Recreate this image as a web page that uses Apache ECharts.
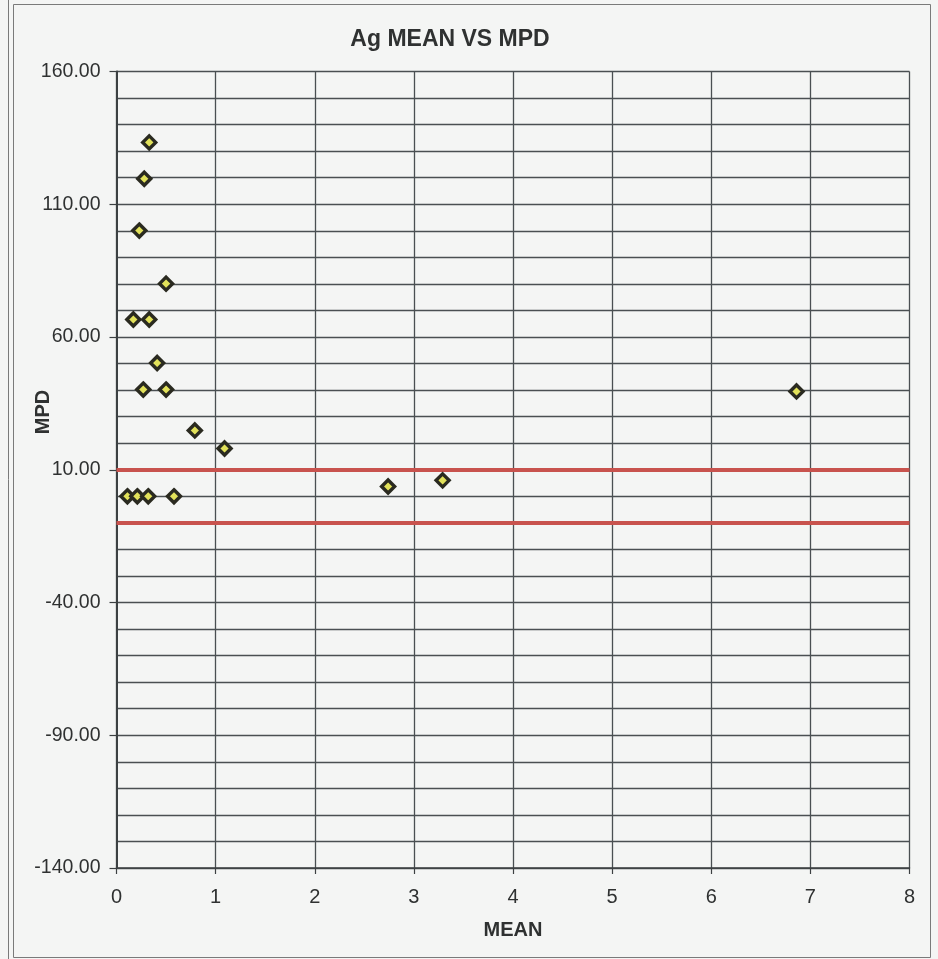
<!DOCTYPE html>
<html>
<head>
<meta charset="utf-8">
<script src="https://cdn.jsdelivr.net/npm/echarts@6/dist/echarts.min.js"></script>
<style>
html,body{margin:0;padding:0;background:#f4f5f4;}
#chart{width:938px;height:959px;}
</style>
</head>
<body>
<div id="chart"></div>
<script>
// Data
const meanValues = [0.33, 0.28, 0.23, 0.50, 0.17, 0.33, 0.41, 0.27, 0.50, 0.79, 1.09, 0.11, 0.21, 0.32, 0.58, 2.74, 3.29, 6.86];
const mpdValues  = [133.3, 119.6, 100.1, 80.1, 66.6, 66.6, 50.2, 40.2, 40.2, 24.8, 18.0, 0.0, 0.0, 0.0, 0.0, 3.7, 6.0, 39.5];
const limitLines = [10, -10];
const xTicks = [0, 1, 2, 3, 4, 5, 6, 7, 8];
const yTicks = [-140, -90, -40, 10, 60, 110, 160];

const chart = echarts.init(document.getElementById('chart'), null, {renderer: 'canvas'});
const font = 'Liberation Sans, Arial, sans-serif';
const gridColor = '#4a4f52';
const textColor = '#2f3131';

const points = meanValues.map((m, i) => [m, mpdValues[i]]);

chart.setOption({
  backgroundColor: '#f4f5f4',
  animation: false,
  title: {
    text: 'Ag MEAN VS MPD',
    left: 445,
    textAlign: 'center',
    top: 23,
    textStyle: {fontFamily: font, fontSize: 23, fontWeight: 'bold', color: textColor}
  },
  graphic: [
    {type: 'rect', shape: {x: 13.5, y: 4.5, width: 917, height: 953}, style: {fill: null, stroke: '#7a7a7a', lineWidth: 1}, silent: true},
    {type: 'line', shape: {x1: 8.5, y1: 0, x2: 8.5, y2: 959}, style: {stroke: '#7a7a7a', lineWidth: 1}, silent: true},
    {type: 'text', x: 43, y: 412, rotation: Math.PI / 2,
      style: {text: 'MPD', fontFamily: font, fontSize: 20, fontWeight: 'bold', fill: textColor, align: 'center', verticalAlign: 'middle'}, silent: true}
  ],
  grid: {left: 116.5, right: 28.5, top: 71.5, bottom: 91},
  xAxis: {
    type: 'value',
    min: xTicks[0],
    max: xTicks[xTicks.length - 1],
    interval: 1,
    name: 'MEAN',
    nameLocation: 'middle',
    nameGap: 52,
    nameTextStyle: {fontFamily: font, fontSize: 20, fontWeight: 'bold', color: textColor},
    axisLine: {show: true, onZero: false, lineStyle: {color: '#3c4042', width: 1.5}},
    axisTick: {show: true, length: 6, lineStyle: {color: '#3c4042', width: 1.2}},
    axisLabel: {fontFamily: font, fontSize: 20, color: textColor, margin: 19},
    splitLine: {show: true, lineStyle: {color: gridColor, width: 1.3}}
  },
  yAxis: {
    type: 'value',
    min: yTicks[0],
    max: yTicks[yTicks.length - 1],
    interval: 50,
    axisLine: {show: true, onZero: false, lineStyle: {color: '#3c4042', width: 2}},
    axisTick: {show: true, length: 7, lineStyle: {color: '#3c4042', width: 1.2}},
    axisLabel: {fontFamily: font, fontSize: 19.5, color: textColor, margin: 16,
      formatter: v => v.toFixed(2)},
    splitLine: {show: true, lineStyle: {color: gridColor, width: 1.3}},
    minorTick: {show: false, splitNumber: 5},
    minorSplitLine: {show: true, lineStyle: {color: gridColor, width: 1.3}}
  },
  series: [{
    type: 'scatter',
    data: points,
    symbol: 'diamond',
    symbolSize: 13,
    itemStyle: {color: '#e2e25a', borderColor: '#2a2a20', borderWidth: 3.4, opacity: 1},
    z: 5,
    markLine: {
      silent: true,
      symbol: ['none', 'none'],
      label: {show: false},
      lineStyle: {color: '#c8534e', width: 4, type: 'solid'},
      data: limitLines.map(v => ({yAxis: v})),
      z: 4
    }
  }]
});
</script>
</body>
</html>
